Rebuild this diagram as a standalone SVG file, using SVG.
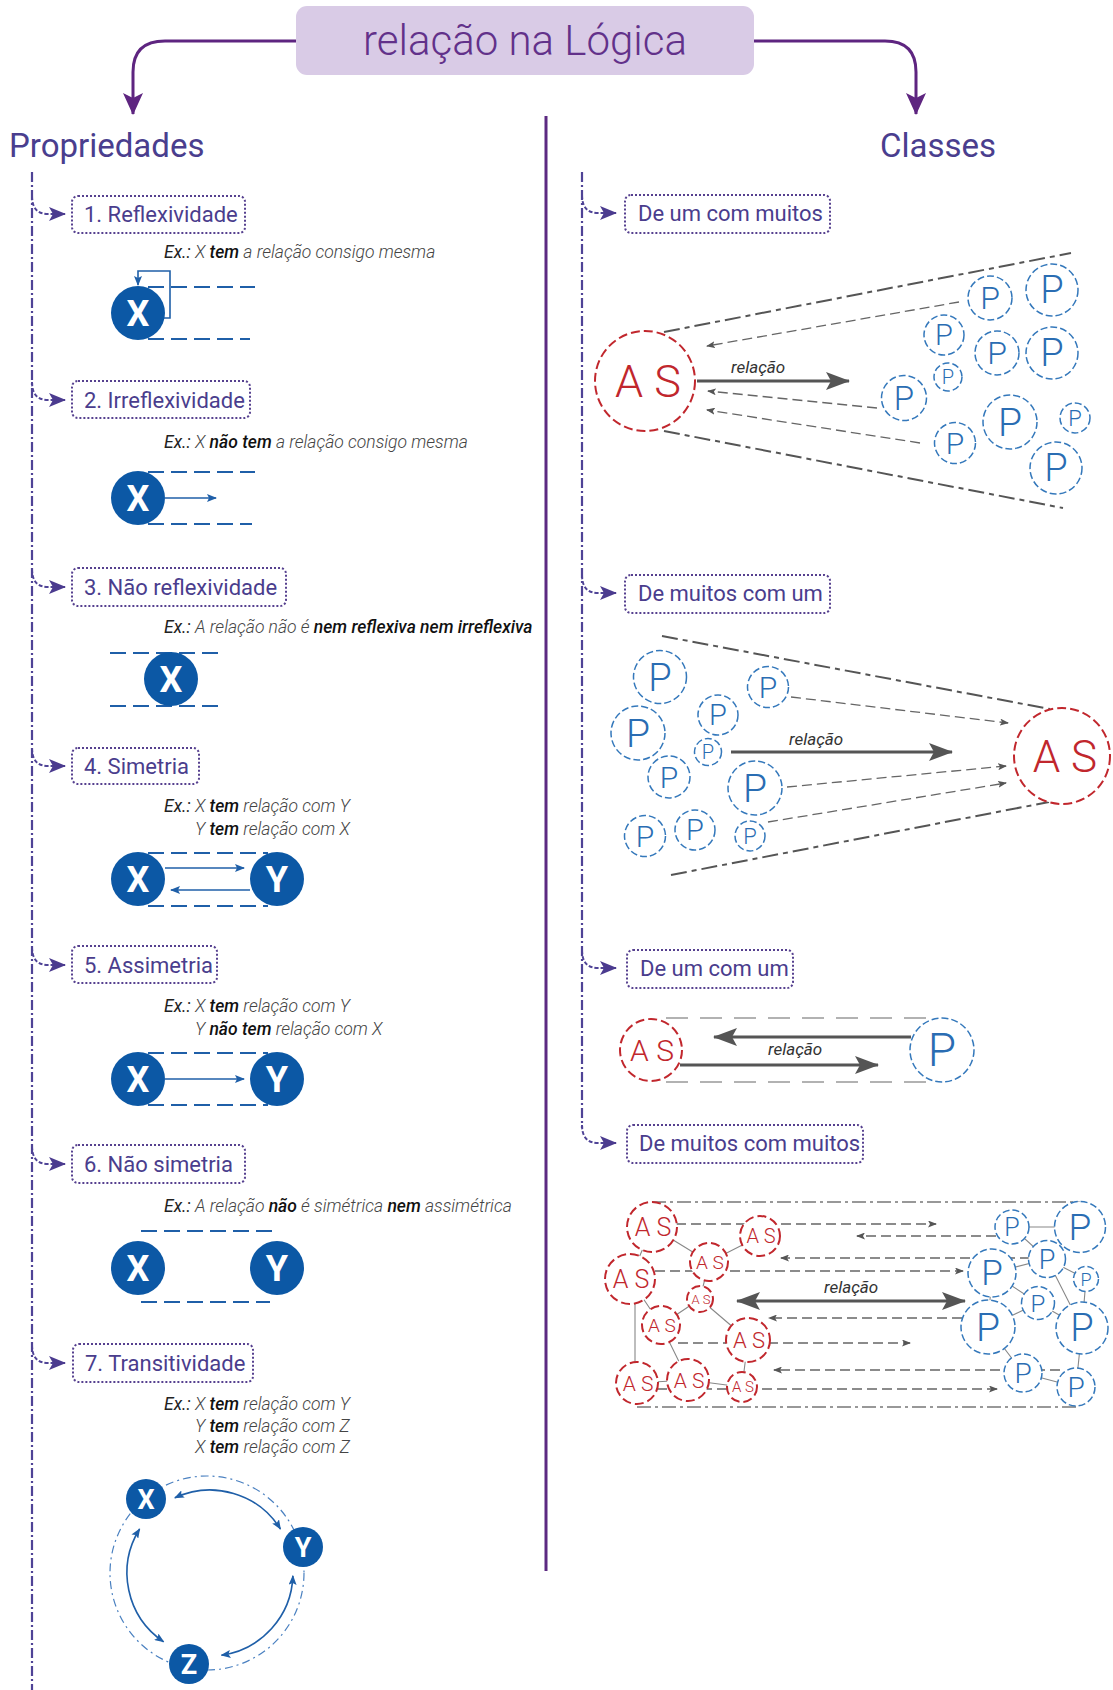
<svg xmlns="http://www.w3.org/2000/svg" width="1113" height="1690" viewBox="0 0 1113 1690">
<style>
text{font-family:Roboto,"Liberation Sans",sans-serif}
.lbl{font-size:22px;fill:#4a3d8d}
.box{fill:#fff;stroke:#56408f;stroke-width:2;stroke-dasharray:2 2}
.ex{font-size:17.5px;font-style:italic;font-weight:300;fill:#444}
.ex .k{font-weight:400;fill:#222}
.ex .b{font-weight:500;fill:#111}
.bd{stroke:#1f5fa8;stroke-width:2;stroke-dasharray:16 7;fill:none}
.bc{fill:#0c58a5}
.bt{fill:#fff;font-weight:700;text-anchor:middle}
.ba{stroke:#1f5fa8;stroke-width:1.6;fill:none}
.pc{fill:#fff;stroke:#3478bb;stroke-width:1.5;stroke-dasharray:7 3}
.pt{fill:#2a6db3;font-weight:300;text-anchor:middle}
.ac{fill:#fff;stroke:#c1272d;stroke-width:2;stroke-dasharray:9 4}
.at{fill:#c1272d;font-weight:300;text-anchor:middle}
.gb{stroke:#555;stroke-width:2;stroke-dasharray:16 5 5 5;fill:none}
.ga{stroke:#666;stroke-width:1.3;stroke-dasharray:10 5;fill:none}
.gm{stroke:#555;stroke-width:3;fill:none}
.rl{font-size:17px;font-style:italic;fill:#333}
.cn{stroke:#888;stroke-width:1.1;fill:none}
.br{stroke:#4f4396;stroke-width:2;stroke-dasharray:4 2;fill:none}
.vl{stroke:#4f4396;stroke-width:2.2;stroke-dasharray:10 3 2 3}
</style>
<defs>
<marker id="ap" viewBox="0 0 22 20" refX="21" refY="10" markerWidth="22" markerHeight="20" markerUnits="userSpaceOnUse" orient="auto"><path d="M0,0 L22,10 L0,20 L5,10 Z" fill="#5e2580"/></marker>
<marker id="ab" viewBox="0 0 17 14" refX="16" refY="7" markerWidth="17" markerHeight="14" markerUnits="userSpaceOnUse" orient="auto"><path d="M0,0 L17,7 L0,14 L4,7 Z" fill="#4b3b8f"/></marker>
<marker id="au" viewBox="0 0 10 8" refX="9" refY="4" markerWidth="10" markerHeight="8" markerUnits="userSpaceOnUse" orient="auto-start-reverse"><path d="M0,0 L10,4 L0,8 L2,4 Z" fill="#1f5fa8"/></marker>
<marker id="ag" viewBox="0 0 9 7" refX="8" refY="3.5" markerWidth="9" markerHeight="7" markerUnits="userSpaceOnUse" orient="auto"><path d="M0,0 L9,3.5 L0,7 L2,3.5 Z" fill="#555"/></marker>
<marker id="aG" viewBox="0 0 24 18" refX="23" refY="9" markerWidth="24" markerHeight="18" markerUnits="userSpaceOnUse" orient="auto-start-reverse"><path d="M0,0 L24,9 L0,18 L5,9 Z" fill="#555"/></marker>
</defs>
<rect width="1113" height="1690" fill="#fff"/>

<g id="connectors">
<path d="M296,41 H165 Q133,41 133,72 V114" stroke="#5e2580" stroke-width="3" fill="none" marker-end="url(#ap)"/>
<path d="M754,41 H885 Q916,41 916,72 V114" stroke="#5e2580" stroke-width="3" fill="none" marker-end="url(#ap)"/>
<line x1="546" y1="116" x2="546" y2="1571" stroke="#5c2a82" stroke-width="3"/>
<line class="vl" x1="32" y1="172" x2="32" y2="1690"/>
<line class="vl" x1="582" y1="172" x2="582" y2="1128"/>
<path class="br" d="M32,196 Q32,214 48,214 H65" marker-end="url(#ab)"/>
<path class="br" d="M32,382 Q32,400 48,400 H65" marker-end="url(#ab)"/>
<path class="br" d="M32,569 Q32,587 48,587 H65" marker-end="url(#ab)"/>
<path class="br" d="M32,748 Q32,766 48,766 H65" marker-end="url(#ab)"/>
<path class="br" d="M32,947 Q32,965 48,965 H65" marker-end="url(#ab)"/>
<path class="br" d="M32,1146 Q32,1164 48,1164 H65" marker-end="url(#ab)"/>
<path class="br" d="M32,1345 Q32,1363 48,1363 H65" marker-end="url(#ab)"/>
<path class="br" d="M582,195 Q582,213 598,213 H616" marker-end="url(#ab)"/>
<path class="br" d="M582,575 Q582,593 598,593 H616" marker-end="url(#ab)"/>
<path class="br" d="M582,950 Q582,968 598,968 H616" marker-end="url(#ab)"/>
<path class="br" d="M582,1125 Q582,1143 598,1143 H616" marker-end="url(#ab)"/>
</g>

<g id="title">
<rect x="296" y="6" width="458" height="69" rx="11" fill="#d9cbe6"/>
<text x="525" y="55" font-size="42" font-weight="300" fill="#62318a" text-anchor="middle">relação na Lógica</text>
</g>
<g id="propriedades"><text x="9" y="157" font-size="33" fill="#4a3e8e">Propriedades</text></g>
<g id="classes"><text x="880" y="157" font-size="33" fill="#4a3e8e">Classes</text></g>

<g id="p1">
<rect class="box" x="72" y="196" width="173" height="37" rx="6"/>
<text class="lbl" x="84" y="222">1. Reflexividade</text>
<text class="ex" x="164" y="258"><tspan class="k">Ex.:</tspan> X <tspan class="b">tem</tspan> a relação consigo mesma</text>
<line class="bd" x1="148" y1="287" x2="255" y2="287"/>
<line class="bd" x1="148" y1="339" x2="250" y2="339"/>
<circle class="bc" cx="138" cy="313" r="27"/>
<text class="bt" x="138" y="326" font-size="36">X</text>
<path class="ba" d="M164,318 H170 V271 H138 V285" marker-end="url(#au)"/>
</g>
<g id="p2">
<rect class="box" x="72" y="381" width="178" height="37" rx="6"/>
<text class="lbl" x="84" y="408">2. Irreflexividade</text>
<text class="ex" x="164" y="448"><tspan class="k">Ex.:</tspan> X <tspan class="b">não tem</tspan> a relação consigo mesma</text>
<line class="bd" x1="148" y1="472" x2="255" y2="472"/>
<line class="bd" x1="148" y1="524" x2="252" y2="524"/>
<circle class="bc" cx="138" cy="498" r="27"/>
<text class="bt" x="138" y="511" font-size="36">X</text>
<line class="ba" x1="165" y1="498" x2="216" y2="498" marker-end="url(#au)"/>
</g>
<g id="p3">
<rect class="box" x="72" y="568" width="214" height="38" rx="6"/>
<text class="lbl" x="84" y="595">3. Não reflexividade</text>
<text class="ex" x="164" y="633"><tspan class="k">Ex.:</tspan> A relação não é <tspan class="b">nem reflexiva nem irreflexiva</tspan></text>
<line class="bd" x1="110" y1="653" x2="224" y2="653"/>
<line class="bd" x1="110" y1="706" x2="222" y2="706"/>
<circle class="bc" cx="171" cy="679" r="27"/>
<text class="bt" x="171" y="692" font-size="36">X</text>
</g>
<g id="p4">
<rect class="box" x="72" y="748" width="127" height="36" rx="6"/>
<text class="lbl" x="84" y="774">4. Simetria</text>
<text class="ex" x="164" y="812"><tspan class="k">Ex.:</tspan> X <tspan class="b">tem</tspan> relação com Y</text>
<text class="ex" x="195" y="835">Y <tspan class="b">tem</tspan> relação com X</text>
<line class="bd" x1="148" y1="853" x2="268" y2="853"/>
<line class="bd" x1="148" y1="906" x2="268" y2="906"/>
<circle class="bc" cx="138" cy="879" r="27"/>
<text class="bt" x="138" y="892" font-size="36">X</text>
<circle class="bc" cx="277" cy="879" r="27"/>
<text class="bt" x="277" y="892" font-size="36">Y</text>
<line class="ba" x1="165" y1="868" x2="244" y2="868" marker-end="url(#au)"/>
<line class="ba" x1="250" y1="890" x2="171" y2="890" marker-end="url(#au)"/>
</g>
<g id="p5">
<rect class="box" x="72" y="946" width="145" height="37" rx="6"/>
<text class="lbl" x="84" y="973">5. Assimetria</text>
<text class="ex" x="164" y="1012"><tspan class="k">Ex.:</tspan> X <tspan class="b">tem</tspan> relação com Y</text>
<text class="ex" x="195" y="1035">Y <tspan class="b">não tem</tspan> relação com X</text>
<line class="bd" x1="148" y1="1053" x2="268" y2="1053"/>
<line class="bd" x1="148" y1="1105" x2="268" y2="1105"/>
<circle class="bc" cx="138" cy="1079" r="27"/>
<text class="bt" x="138" y="1092" font-size="36">X</text>
<circle class="bc" cx="277" cy="1079" r="27"/>
<text class="bt" x="277" y="1092" font-size="36">Y</text>
<line class="ba" x1="165" y1="1079" x2="244" y2="1079" marker-end="url(#au)"/>
</g>
<g id="p6">
<rect class="box" x="72" y="1145" width="173" height="38" rx="6"/>
<text class="lbl" x="84" y="1172">6. Não simetria</text>
<text class="ex" x="164" y="1212"><tspan class="k">Ex.:</tspan> A relação <tspan class="b">não</tspan> é simétrica <tspan class="b">nem</tspan> assimétrica</text>
<line class="bd" x1="141" y1="1231" x2="275" y2="1231"/>
<line class="bd" x1="141" y1="1302" x2="270" y2="1302"/>
<circle class="bc" cx="138" cy="1268" r="27"/>
<text class="bt" x="138" y="1281" font-size="36">X</text>
<circle class="bc" cx="277" cy="1268" r="27"/>
<text class="bt" x="277" y="1281" font-size="36">Y</text>
</g>
<g id="p7">
<rect class="box" x="73" y="1344" width="180" height="38" rx="6"/>
<text class="lbl" x="85" y="1371">7. Transitividade</text>
<text class="ex" x="164" y="1410"><tspan class="k">Ex.:</tspan> X <tspan class="b">tem</tspan> relação com Y</text>
<text class="ex" x="195" y="1432">Y <tspan class="b">tem</tspan> relação com Z</text>
<text class="ex" x="195" y="1453">X <tspan class="b">tem</tspan> relação com Z</text>
<circle cx="207" cy="1573" r="97" fill="none" stroke="#4a80c0" stroke-width="1.2" stroke-dasharray="8 4 2 4"/>
<path class="ba" d="M174.9,1497.8 A83,83 0 0 1 280.4,1529" marker-start="url(#au)" marker-end="url(#au)"/>
<path class="ba" d="M139.6,1529 A83,83 0 0 0 163.6,1641.8" marker-start="url(#au)" marker-end="url(#au)"/>
<path class="ba" d="M292.9,1575.9 A83,83 0 0 1 221.5,1655.2" marker-start="url(#au)" marker-end="url(#au)"/>
<circle class="bc" cx="146" cy="1499" r="20"/>
<text class="bt" x="146" y="1509" font-size="27">X</text>
<circle class="bc" cx="303" cy="1547" r="20"/>
<text class="bt" x="303" y="1557" font-size="27">Y</text>
<circle class="bc" cx="189" cy="1664" r="20"/>
<text class="bt" x="189" y="1674" font-size="27">Z</text>
</g>

<g id="c1">
<rect class="box" x="625" y="195" width="205" height="38" rx="6"/>
<text class="lbl" x="638" y="221">De um com muitos</text>
<line class="gb" x1="664" y1="332" x2="1071" y2="253"/>
<line class="gb" x1="664" y1="431" x2="1063" y2="508"/>
<line class="ga" x1="959" y1="302" x2="707" y2="346" marker-end="url(#ag)"/>
<line class="ga" x1="877" y1="408" x2="708" y2="391" marker-end="url(#ag)"/>
<line class="ga" x1="920" y1="443" x2="707" y2="410" marker-end="url(#ag)"/>
<line class="gm" x1="697" y1="381" x2="849" y2="381" marker-end="url(#aG)"/>
<text class="rl" x="731" y="373">relação</text>
<circle class="ac" cx="645" cy="381" r="50"/>
<text class="at" x="648" y="397" font-size="45">A S</text>
<circle class="pc" cx="990" cy="298" r="22"/><text class="pt" x="990" y="309" font-size="32">P</text>
<circle class="pc" cx="1052" cy="290" r="26"/><text class="pt" x="1052" y="303" font-size="38">P</text>
<circle class="pc" cx="944" cy="335" r="20"/><text class="pt" x="944" y="345" font-size="29">P</text>
<circle class="pc" cx="997" cy="353" r="22"/><text class="pt" x="997" y="364" font-size="32">P</text>
<circle class="pc" cx="1052" cy="353" r="26"/><text class="pt" x="1052" y="366" font-size="38">P</text>
<circle class="pc" cx="948" cy="377" r="14"/><text class="pt" x="948" y="384" font-size="20">P</text>
<circle class="pc" cx="904" cy="398" r="22.5"/><text class="pt" x="904" y="410" font-size="33">P</text>
<circle class="pc" cx="1010" cy="422" r="27"/><text class="pt" x="1010" y="436" font-size="39">P</text>
<circle class="pc" cx="1075" cy="418" r="15"/><text class="pt" x="1075" y="426" font-size="22">P</text>
<circle class="pc" cx="955" cy="443" r="20.5"/><text class="pt" x="955" y="454" font-size="30">P</text>
<circle class="pc" cx="1056" cy="468" r="26"/><text class="pt" x="1056" y="481" font-size="38">P</text>
</g>

<g id="c2">
<rect class="box" x="625" y="575" width="205" height="38" rx="6"/>
<text class="lbl" x="638" y="601">De muitos com um</text>
<line class="gb" x1="662" y1="636" x2="1050" y2="709"/>
<line class="gb" x1="671" y1="875" x2="1049" y2="802"/>
<line class="ga" x1="791" y1="697" x2="1008" y2="723" marker-end="url(#ag)"/>
<line class="ga" x1="787" y1="787" x2="1006" y2="766" marker-end="url(#ag)"/>
<line class="ga" x1="768" y1="822" x2="1006" y2="783" marker-end="url(#ag)"/>
<line class="gm" x1="731" y1="752" x2="952" y2="752" marker-end="url(#aG)"/>
<text class="rl" x="789" y="745">relação</text>
<circle class="ac" cx="1062" cy="756" r="48"/>
<text class="at" x="1065" y="772" font-size="44">A S</text>
<circle class="pc" cx="660" cy="677" r="26.5"/><text class="pt" x="660" y="691" font-size="38">P</text>
<circle class="pc" cx="768" cy="687" r="20.5"/><text class="pt" x="768" y="698" font-size="30">P</text>
<circle class="pc" cx="718" cy="715" r="20"/><text class="pt" x="718" y="725" font-size="29">P</text>
<circle class="pc" cx="638" cy="733" r="27"/><text class="pt" x="638" y="747" font-size="39">P</text>
<circle class="pc" cx="708" cy="752" r="13.5"/><text class="pt" x="708" y="759" font-size="20">P</text>
<circle class="pc" cx="669" cy="777" r="21"/><text class="pt" x="669" y="788" font-size="30">P</text>
<circle class="pc" cx="755" cy="788" r="27"/><text class="pt" x="755" y="802" font-size="39">P</text>
<circle class="pc" cx="645" cy="836" r="20.5"/><text class="pt" x="645" y="847" font-size="30">P</text>
<circle class="pc" cx="695" cy="830" r="20"/><text class="pt" x="695" y="840" font-size="29">P</text>
<circle class="pc" cx="750" cy="836" r="15"/><text class="pt" x="750" y="844" font-size="22">P</text>
</g>

<g id="c3">
<rect class="box" x="627" y="950" width="166" height="38" rx="6"/>
<text class="lbl" x="640" y="976">De um com um</text>
<line x1="666" y1="1018" x2="934" y2="1018" stroke="#999" stroke-width="1.5" stroke-dasharray="22 12"/>
<line x1="666" y1="1082" x2="930" y2="1082" stroke="#999" stroke-width="1.5" stroke-dasharray="22 12"/>
<line class="gm" x1="911" y1="1037" x2="714" y2="1037" marker-end="url(#aG)"/>
<line class="gm" x1="680" y1="1065" x2="878" y2="1065" marker-end="url(#aG)"/>
<text class="rl" x="768" y="1055">relação</text>
<circle class="ac" cx="651" cy="1050" r="31"/>
<text class="at" x="652" y="1061" font-size="30">A S</text>
<circle class="pc" cx="942" cy="1050" r="32"/>
<text class="pt" x="942" y="1066" font-size="46">P</text>
</g>

<g id="c4">
<rect class="box" x="627" y="1125" width="236" height="38" rx="6"/>
<text class="lbl" x="639" y="1151">De muitos com muitos</text>
<line x1="652" y1="1202" x2="1080" y2="1202" stroke="#777" stroke-width="1.6" stroke-dasharray="14 4 3 4"/>
<line x1="637" y1="1407" x2="1076" y2="1407" stroke="#777" stroke-width="1.6" stroke-dasharray="14 4 3 4"/>
<path class="cn" d="M652,1227 L709,1262 M760,1236 L709,1262 M652,1227 L630,1279 M709,1262 L700,1299 M630,1279 L661,1325 M700,1299 L661,1325 M700,1299 L748,1340 M661,1325 L688,1380 M635,1279 L635,1383 M748,1340 L742,1387 M688,1380 L742,1387 M637,1383 L688,1380"/>
<path class="cn" d="M1012,1227 L1080,1227 M1012,1227 L1047,1259 M1047,1259 L992,1273 M1047,1259 L1086,1279 M992,1273 L1038,1303 M1047,1259 L1082,1328 M1086,1279 L1082,1328 M1038,1303 L988,1327 M1038,1303 L1082,1328 M992,1273 L988,1327 M988,1327 L1023,1373 M1023,1373 L1076,1387 M1082,1328 L1076,1387"/>
<line class="ga" x1="676" y1="1224" x2="936" y2="1224" marker-end="url(#ag)"/>
<line class="ga" x1="996" y1="1236" x2="857" y2="1236" marker-end="url(#ag)"/>
<line class="ga" x1="1030" y1="1258" x2="781" y2="1258" marker-end="url(#ag)"/>
<line class="ga" x1="655" y1="1271" x2="963" y2="1271" marker-end="url(#ag)"/>
<line class="ga" x1="962" y1="1318" x2="769" y2="1318" marker-end="url(#ag)"/>
<line class="ga" x1="678" y1="1343" x2="910" y2="1343" marker-end="url(#ag)"/>
<line class="ga" x1="1060" y1="1370" x2="774" y2="1370" marker-end="url(#ag)"/>
<line class="ga" x1="657" y1="1389" x2="997" y2="1389" marker-end="url(#ag)"/>
<line class="gm" x1="737" y1="1301" x2="965" y2="1301" marker-start="url(#aG)" marker-end="url(#aG)"/>
<text class="rl" x="824" y="1293">relação</text>
<circle class="ac" cx="652" cy="1227" r="25"/><text class="at" x="653" y="1236" font-size="25">A S</text>
<circle class="ac" cx="760" cy="1236" r="20"/><text class="at" x="761" y="1243" font-size="20">A S</text>
<circle class="ac" cx="709" cy="1262" r="19"/><text class="at" x="710" y="1269" font-size="19">A S</text>
<circle class="ac" cx="630" cy="1279" r="25"/><text class="at" x="631" y="1288" font-size="25">A S</text>
<circle class="ac" cx="700" cy="1299" r="13"/><text class="at" x="701" y="1304" font-size="13">A S</text>
<circle class="ac" cx="661" cy="1325" r="19"/><text class="at" x="662" y="1332" font-size="19">A S</text>
<circle class="ac" cx="748" cy="1340" r="22"/><text class="at" x="749" y="1348" font-size="22">A S</text>
<circle class="ac" cx="637" cy="1383" r="21"/><text class="at" x="638" y="1391" font-size="21">A S</text>
<circle class="ac" cx="688" cy="1380" r="21"/><text class="at" x="689" y="1388" font-size="21">A S</text>
<circle class="ac" cx="742" cy="1387" r="15"/><text class="at" x="743" y="1392" font-size="15">A S</text>
<circle class="pc" cx="1012" cy="1227" r="17"/><text class="pt" x="1012" y="1236" font-size="25">P</text>
<circle class="pc" cx="1080" cy="1227" r="25.5"/><text class="pt" x="1080" y="1240" font-size="37">P</text>
<circle class="pc" cx="1047" cy="1259" r="18.5"/><text class="pt" x="1047" y="1269" font-size="27">P</text>
<circle class="pc" cx="992" cy="1273" r="24"/><text class="pt" x="992" y="1285" font-size="35">P</text>
<circle class="pc" cx="1086" cy="1279" r="12.5"/><text class="pt" x="1086" y="1286" font-size="18">P</text>
<circle class="pc" cx="1038" cy="1303" r="16.5"/><text class="pt" x="1038" y="1312" font-size="24">P</text>
<circle class="pc" cx="988" cy="1327" r="27"/><text class="pt" x="988" y="1341" font-size="39">P</text>
<circle class="pc" cx="1082" cy="1328" r="26"/><text class="pt" x="1082" y="1341" font-size="38">P</text>
<circle class="pc" cx="1023" cy="1373" r="19"/><text class="pt" x="1023" y="1383" font-size="28">P</text>
<circle class="pc" cx="1076" cy="1387" r="19"/><text class="pt" x="1076" y="1397" font-size="28">P</text>
</g>
</svg>
